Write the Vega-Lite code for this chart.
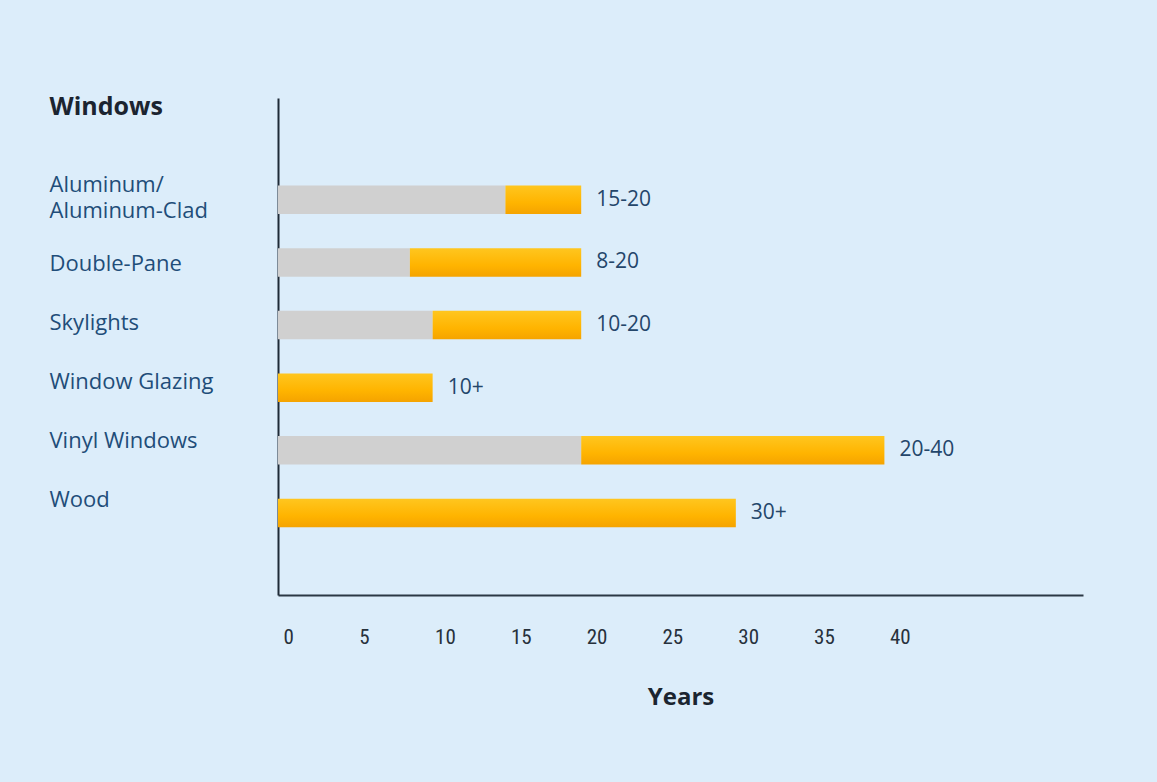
{
  "$schema": "https://vega.github.io/schema/vega-lite/v6.json",
  "autosize": {"type": "none"},
  "width": 805,
  "height": 497,
  "padding": {"left": 278, "top": 98, "right": 74, "bottom": 187},
  "background": "#dcedfa",
  "config": {"view": {"stroke": null}},
  "data": {"values": [
    {"cat": "Aluminum/Aluminum-Clad", "base": 15, "top": 20, "label": "15-20"},
    {"cat": "Double-Pane", "base": 8.7, "top": 20, "label": "8-20"},
    {"cat": "Skylights", "base": 10.2, "top": 20, "label": "10-20"},
    {"cat": "Window Glazing", "base": 0, "top": 10.2, "label": "10+"},
    {"cat": "Vinyl Windows", "base": 20, "top": 40, "label": "20-40"},
    {"cat": "Wood", "base": 0, "top": 30.2, "label": "30+"}
  ]},
  "resolve": {"scale": {"y": "independent"}, "axis": {"y": "independent"}},
  "layer": [
    {
      "encoding": {
        "y": {"field": "cat", "type": "nominal",
              "scale": {"type": "band",
                        "domain": ["pad-top", "Aluminum/Aluminum-Clad", "Double-Pane", "Skylights", "Window Glazing", "Vinyl Windows", "Wood", "pad-bottom"],
                        "paddingInner": 0.545, "paddingOuter": 0.24, "align": 0.83},
              "axis": null}
      },
      "layer": [
        {
          "mark": {"type": "bar", "color": "#d0d0d0"},
          "encoding": {
            "x": {"field": "base", "type": "quantitative",
                  "scale": {"domain": [0, 53.1], "nice": false, "zero": true},
                  "axis": {"values": [0, 5, 10, 15, 20, 25, 30, 35, 40], "grid": false, "ticks": false,
                           "domainColor": "#2b3844", "domainWidth": 2,
                           "labelAlign": "left", "labelOffset": 5, "labelBaseline": "top", "labelPadding": 31,
                           "labelFont": "Liberation Sans Narrow, Roboto Condensed, Roboto", "labelFontSize": 21, "labelColor": "#27313c",
                           "title": "Years", "titleFont": "Open Sans", "titleFontSize": 24, "titleFontWeight": "bold",
                           "titleColor": "#1b2530", "titlePadding": 38}}
          }
        },
        {
          "mark": {"type": "bar", "color": {"gradient": "linear", "x1": 0, "y1": 0, "x2": 0, "y2": 1,
                   "stops": [{"offset": 0, "color": "#ffc61f"}, {"offset": 0.6, "color": "#ffb400"}, {"offset": 1, "color": "#f5a300"}]}},
          "encoding": {
            "x": {"field": "base", "type": "quantitative"},
            "x2": {"field": "top"}
          }
        },
        {
          "mark": {"type": "text", "align": "left", "baseline": "middle", "dx": 15,
                   "font": "Open Sans", "fontSize": 21, "color": "#24466a"},
          "encoding": {
            "x": {"field": "top", "type": "quantitative"},
            "text": {"field": "label"}
          }
        }
      ]
    },
    {
      "mark": {"type": "point", "opacity": 0},
      "encoding": {
        "y": {"field": "cat", "type": "nominal",
              "scale": {"type": "point",
                        "domain": ["pad-top", "Aluminum/Aluminum-Clad", "Double-Pane", "Skylights", "Window Glazing", "Vinyl Windows", "Wood", "pad-bottom"],
                        "padding": 0.7, "align": 0.564},
              "axis": {"orient": "left", "domain": true, "domainColor": "#1e2a36", "domainWidth": 2,
                       "values": ["Aluminum/Aluminum-Clad", "Double-Pane", "Skylights", "Window Glazing", "Vinyl Windows", "Wood"],
                       "ticks": false, "grid": false,
                       "labelAlign": "left", "labelPadding": 229, "labelBaseline": "middle",
                       "labelOffset": {"condition": {"test": "datum.value == 'Aluminum/Aluminum-Clad'", "value": -19}, "value": 0},
                       "labelFont": "Open Sans", "labelFontSize": 22, "labelColor": "#1f4d79",
                       "labelLineHeight": 26, "labelLimit": 0,
                       "labelExpr": "datum.value == 'Aluminum/Aluminum-Clad' ? ['Aluminum/', 'Aluminum-Clad'] : datum.label",
                       "title": "Windows", "titleAngle": 0, "titleAlign": "left", "titleBaseline": "middle",
                       "titleX": -229, "titleY": 8, "titleFont": "Open Sans", "titleFontSize": 25,
                       "titleFontWeight": "bold", "titleColor": "#1b2430"}}
      }
    }
  ]
}
